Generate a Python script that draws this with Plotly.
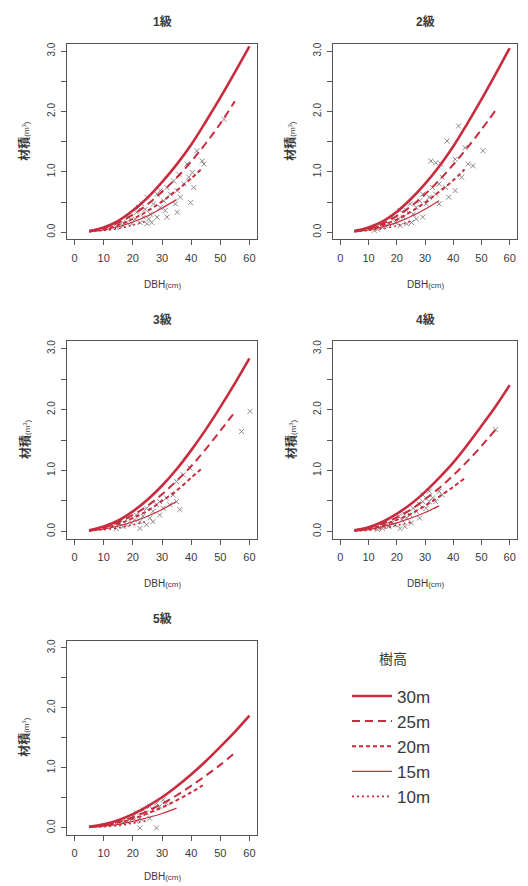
import plotly.graph_objects as go

# ---------------- data ----------------
panel_titles = ["1級", "2級", "3級", "4級", "5級"]
height_labels = ["30m", "25m", "20m", "15m", "10m"]
legend_title = "樹高"

dbh_30 = [5, 10, 15, 20, 25, 30, 35, 40, 45, 50, 55, 60]
dbh_25 = [5, 10, 15, 20, 25, 30, 35, 40, 45, 50, 55]
dbh_20 = [5, 10, 15, 20, 25, 30, 35, 40, 44]
dbh_15 = [5, 10, 15, 20, 25, 30, 35]
dbh_10 = [5, 10, 15, 20, 25]

# class 1
c1_h30 = [0.02, 0.08, 0.19, 0.36, 0.57, 0.83, 1.12, 1.45, 1.83, 2.23, 2.65, 3.08]
c1_h25 = [0.02, 0.07, 0.16, 0.29, 0.46, 0.67, 0.90, 1.17, 1.47, 1.80, 2.17]
c1_h20 = [0.01, 0.05, 0.12, 0.22, 0.35, 0.51, 0.69, 0.89, 1.07]
c1_h15 = [0.01, 0.04, 0.09, 0.17, 0.27, 0.40, 0.54]
c1_h10 = [0.01, 0.03, 0.06, 0.12, 0.19]
# class 2
c2_h30 = [0.02, 0.08, 0.18, 0.34, 0.55, 0.80, 1.09, 1.42, 1.80, 2.20, 2.62, 3.05]
c2_h25 = [0.02, 0.06, 0.14, 0.27, 0.43, 0.63, 0.86, 1.12, 1.40, 1.70, 2.02]
c2_h20 = [0.01, 0.05, 0.12, 0.21, 0.34, 0.49, 0.67, 0.86, 1.04]
c2_h15 = [0.01, 0.04, 0.09, 0.16, 0.26, 0.38, 0.52]
c2_h10 = [0.01, 0.03, 0.06, 0.11, 0.18]
# class 3
c3_h30 = [0.02, 0.08, 0.18, 0.33, 0.52, 0.75, 1.02, 1.33, 1.67, 2.04, 2.43, 2.84]
c3_h25 = [0.02, 0.06, 0.15, 0.27, 0.42, 0.61, 0.83, 1.07, 1.35, 1.65, 1.96]
c3_h20 = [0.01, 0.05, 0.12, 0.22, 0.34, 0.50, 0.67, 0.88, 1.05]
c3_h15 = [0.01, 0.04, 0.09, 0.16, 0.25, 0.36, 0.49]
c3_h10 = [0.01, 0.03, 0.06, 0.11, 0.17]
# class 4
c4_h30 = [0.02, 0.07, 0.16, 0.29, 0.45, 0.65, 0.88, 1.13, 1.42, 1.73, 2.05, 2.40]
c4_h25 = [0.02, 0.06, 0.13, 0.23, 0.36, 0.53, 0.71, 0.92, 1.15, 1.40, 1.67]
c4_h20 = [0.01, 0.05, 0.10, 0.19, 0.29, 0.42, 0.57, 0.73, 0.87]
c4_h15 = [0.01, 0.03, 0.08, 0.14, 0.22, 0.31, 0.42]
c4_h10 = [0.01, 0.02, 0.05, 0.10, 0.15]
# class 5
c5_h30 = [0.02, 0.06, 0.13, 0.23, 0.36, 0.51, 0.69, 0.89, 1.11, 1.35, 1.60, 1.87]
c5_h25 = [0.02, 0.05, 0.10, 0.18, 0.28, 0.40, 0.54, 0.70, 0.87, 1.05, 1.25]
c5_h20 = [0.01, 0.04, 0.09, 0.15, 0.24, 0.34, 0.46, 0.59, 0.71]
c5_h15 = [0.01, 0.03, 0.06, 0.11, 0.17, 0.24, 0.33]
c5_h10 = [0.01, 0.02, 0.04, 0.08, 0.12]

# observed trees (DBH cm, volume m3)
c1_obs_dbh = [39.8, 43.8, 44.4, 42.0, 40.4, 38.6, 39.2, 37.5, 35.8, 35.2, 34.0, 32.9, 31.7, 30.6,
              29.4, 28.3, 27.1, 26.0, 25.4, 24.2, 23.6, 22.5, 21.3, 20.8, 19.6, 18.5, 17.9, 16.7,
              15.6, 14.4, 21.9, 23.1, 24.8, 29.4, 31.1, 34.6, 36.3, 40.9, 24.8, 26.5, 28.3, 31.7,
              35.2, 51.3]
c1_obs_vol = [0.49, 1.18, 1.13, 1.35, 0.99, 1.13, 0.91, 0.80, 0.96, 0.69, 0.85, 0.63, 0.74, 0.52,
              0.41, 0.63, 0.47, 0.30, 0.22, 0.38, 0.25, 0.16, 0.33, 0.22, 0.14, 0.25, 0.16, 0.11,
              0.14, 0.08, 0.41, 0.47, 0.58, 0.69, 0.36, 0.47, 0.58, 0.74, 0.14, 0.16, 0.25, 0.25,
              0.33, 1.87]
c2_obs_dbh = [41.9, 37.8, 32.1, 33.8, 35.6, 45.3, 47.0, 50.5, 40.7, 44.2, 36.1, 37.3, 35.0, 33.8,
              32.7, 31.5, 30.4, 29.2, 28.1, 26.9, 25.8, 24.7, 23.5, 22.4, 21.2, 20.6, 19.5, 18.3,
              17.2, 16.1, 14.9, 13.2, 12.0, 29.2, 26.9, 25.2, 35.0, 38.4, 40.7, 43.0, 21.2, 23.5]
c2_obs_vol = [1.76, 1.51, 1.18, 1.15, 1.13, 1.13, 1.10, 1.35, 1.21, 1.40, 0.91, 0.74, 0.80, 0.63,
              0.74, 0.58, 0.47, 0.63, 0.52, 0.41, 0.30, 0.47, 0.36, 0.25, 0.36, 0.22, 0.16, 0.25,
              0.14, 0.11, 0.08, 0.05, 0.03, 0.25, 0.22, 0.16, 0.47, 0.58, 0.69, 0.91, 0.11, 0.14]
c3_obs_dbh = [60.2, 57.3, 35.0, 36.1, 33.8, 32.7, 31.5, 30.4, 29.2, 28.1, 26.9, 25.8, 24.7, 23.5,
              22.4, 21.2, 20.6, 19.5, 18.3, 17.8, 16.6, 15.5, 14.3, 35.0, 37.3, 39.6, 29.2, 26.9,
              24.7, 22.4]
c3_obs_vol = [1.97, 1.64, 0.49, 0.36, 0.60, 0.44, 0.55, 0.38, 0.27, 0.44, 0.33, 0.22, 0.38, 0.25,
              0.16, 0.27, 0.19, 0.14, 0.22, 0.11, 0.08, 0.14, 0.05, 0.82, 0.93, 1.04, 0.49, 0.16,
              0.11, 0.05]
c4_obs_dbh = [35.0, 32.7, 31.5, 30.4, 29.2, 28.1, 26.9, 25.8, 24.7, 23.5, 22.4, 21.8, 20.6, 19.5,
              18.3, 17.2, 16.1, 14.9, 13.2, 33.8, 36.1, 28.1, 25.2, 22.9, 21.2, 31.5, 29.2, 55.0]
c4_obs_vol = [0.66, 0.55, 0.49, 0.38, 0.49, 0.44, 0.33, 0.38, 0.27, 0.22, 0.30, 0.19, 0.25, 0.11,
              0.14, 0.08, 0.11, 0.05, 0.03, 0.49, 0.60, 0.22, 0.14, 0.08, 0.05, 0.66, 0.60, 1.67]
c5_obs_dbh = [22.4, 28.1, 21.2, 20.1, 18.9, 17.8, 16.6, 23.5, 24.7, 25.8, 26.9, 28.1, 29.2, 30.4,
              31.5, 22.4, 21.2, 25.8]
c5_obs_vol = [0.00, 0.00, 0.25, 0.19, 0.14, 0.11, 0.08, 0.30, 0.25, 0.36, 0.30, 0.41, 0.36, 0.47,
              0.41, 0.16, 0.11, 0.16]

x_tick_vals = [0, 10, 20, 30, 40, 50, 60]
y_tick_vals = [0.0, 1.0, 2.0, 3.0]
y_tick_text = ["0.0", "1.0", "2.0", "3.0"]

# ---------------- figure ----------------
W, H = 528, 886
FONT = "Liberation Sans, Noto Sans CJK JP, sans-serif"
RED = "#c82c3e"
INK = "#3a3a3a"

dbh_sets = [dbh_30, dbh_25, dbh_20, dbh_15, dbh_10]
curves = [
    [c1_h30, c1_h25, c1_h20, c1_h15, c1_h10],
    [c2_h30, c2_h25, c2_h20, c2_h15, c2_h10],
    [c3_h30, c3_h25, c3_h20, c3_h15, c3_h10],
    [c4_h30, c4_h25, c4_h20, c4_h15, c4_h10],
    [c5_h30, c5_h25, c5_h20, c5_h15, c5_h10],
]
observed = [
    (c1_obs_dbh, c1_obs_vol),
    (c2_obs_dbh, c2_obs_vol),
    (c3_obs_dbh, c3_obs_vol),
    (c4_obs_dbh, c4_obs_vol),
    (c5_obs_dbh, c5_obs_vol),
]
line_styles = [
    dict(width=2.6, dash="solid"),
    dict(width=2.0, dash="8px,5px"),
    dict(width=2.0, dash="4px,3px"),
    dict(width=1.2, dash="solid"),
    dict(width=1.6, dash="2px,3px"),
]

# panel boxes in pixels (left, right, top, bottom) and x-title offsets
boxes = [
    (67, 257, 42, 238),
    (333, 517, 42, 238),
    (67, 257, 340, 538),
    (333, 517, 340, 538),
    (67, 257, 640, 835),
]
xtitle_gap = [45, 45, 45, 45, 41]

fig = go.Figure()
layout = dict(
    width=W, height=H,
    margin=dict(l=0, r=0, t=0, b=0),
    paper_bgcolor="white", plot_bgcolor="white",
    font=dict(family=FONT, color=INK, size=11),
    showlegend=True,
    legend=dict(
        x=347 / W, y=1 - 678 / H, xanchor="left", yanchor="top",
        font=dict(size=17, color=INK),
        bgcolor="rgba(0,0,0,0)", itemwidth=40, tracegroupgap=0,
    ),
)
annotations = [dict(
    text=legend_title, x=393 / W, y=1 - 658 / H, xref="paper", yref="paper",
    showarrow=False, xanchor="center", yanchor="middle", font=dict(size=14, color=INK),
)]

for i in range(5):
    n = "" if i == 0 else str(i + 1)
    xa, ya = "x" + n, "y" + n
    L, R, T, B = boxes[i]
    ox, oy = observed[i]
    fig.add_trace(go.Scatter(
        x=ox, y=oy, mode="markers", xaxis=xa, yaxis=ya, showlegend=False,
        marker=dict(symbol="x-thin-open", size=5, color="#8a8a8a", line=dict(width=1, color="#8a8a8a")),
        hoverinfo="skip",
    ))
    for k in range(5):
        fig.add_trace(go.Scatter(
            x=dbh_sets[k], y=curves[i][k], mode="lines", xaxis=xa, yaxis=ya,
            name=height_labels[k], showlegend=(i == 0), legendgroup=height_labels[k],
            line=dict(color=RED, shape="spline", **line_styles[k]),
        ))
    layout["xaxis" + n] = dict(
        domain=[L / W, R / W], anchor=ya, range=[-2.6, 62.6],
        tickvals=x_tick_vals, ticks="outside", ticklen=5, tickcolor="#555", tickwidth=1,
        showline=True, mirror=True, linecolor="#555", linewidth=1,
        showgrid=False, zeroline=False, tickfont=dict(size=11, color=INK),
        ticklabelstandoff=3,
    )
    layout["yaxis" + n] = dict(
        domain=[1 - B / H, 1 - T / H], anchor=xa, range=[-0.12, 3.12],
        tickvals=y_tick_vals, ticktext=y_tick_text, tickangle=-90,
        ticks="outside", ticklen=5, tickcolor="#555", tickwidth=1,
        minor=dict(dtick=0.5, ticks="outside", ticklen=5, tickcolor="#555", tickwidth=1, showgrid=False),
        showline=True, mirror=True, linecolor="#555", linewidth=1,
        showgrid=False, zeroline=False, tickfont=dict(size=10, color=INK),
        ticklabelstandoff=2,
    )
    cx = (L + R) / 2
    annotations.append(dict(
        text="<b>" + panel_titles[i] + "</b>", x=cx / W, y=1 - (T - 22) / H,
        xref="paper", yref="paper", showarrow=False, xanchor="center", yanchor="middle",
        font=dict(size=12, color=INK),
    ))
    annotations.append(dict(
        text="DBH<span style='font-size:8px'>(cm)</span>", x=cx / W, y=1 - (B + xtitle_gap[i]) / H,
        xref="paper", yref="paper", showarrow=False, xanchor="center", yanchor="middle",
        font=dict(size=10, color=INK),
    ))
    annotations.append(dict(
        text="<b>材積</b><span style='font-size:8px'>(m<sup>3</sup>)</span>",
        x=(L - 42) / W, y=1 - ((T + B) / 2) / H, textangle=-90,
        xref="paper", yref="paper", showarrow=False, xanchor="center", yanchor="middle",
        font=dict(size=12, color=INK),
    ))

layout["annotations"] = annotations
fig.update_layout(**layout)
fig.write_html(
    "out.html",
    config={"displayModeBar": False},
    post_script="document.body.style.margin='0';document.body.style.overflow='hidden';",
)
